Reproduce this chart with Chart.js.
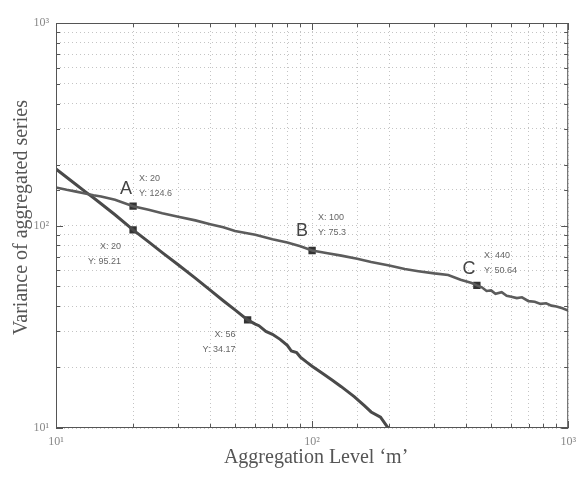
<!DOCTYPE html>
<html>
<head>
<meta charset="utf-8">
<script src="https://cdn.jsdelivr.net/npm/chart.js@4/dist/chart.umd.min.js"></script>
<style>
  html, body { margin: 0; padding: 0; background: #fff; }
  #wrap { width: 583px; height: 491px; }
</style>
</head>
<body>
<div id="wrap"><canvas id="chart" width="583" height="491"></canvas></div>
<script>
// aggregation level m (x) and variance of the aggregated series (y)
const shallowX = [10, 11, 12, 13, 14, 15, 17, 20, 23, 26, 30, 35, 40, 45, 50, 60, 70, 80, 90, 100,
    115, 130, 150, 170, 200, 230, 260, 300, 340, 380, 420, 440, 460, 480, 500, 520, 550, 575, 600, 630,
    660, 700, 740, 780, 820, 860, 900, 950, 1000];
const shallowY = [154, 150, 147, 144, 141, 139, 134, 124.6, 119.5, 115, 110.5, 106, 101.5, 98, 94, 90, 85.5, 82.5, 79, 75.3,
    73, 71, 68.5, 66, 63.5, 61, 59.5, 58, 57, 54, 52, 50.64, 49.5, 47.5, 47.8, 46, 46.8, 45, 44.5, 43.8,
    44.2, 42.3, 42, 41, 41.3, 40.2, 39.8, 39, 38];

const steepX = [10, 11, 12, 13, 14, 15, 17, 20, 23, 26, 30, 35, 40, 45, 50, 56, 60, 62, 66, 70, 75, 80, 83, 87,
    90, 95, 100, 110, 120, 130, 146, 160, 170, 185, 197, 205];
const steepY = [190, 173, 159, 147, 137, 128, 113, 95.21, 83, 73.5, 64, 55, 48, 42.5, 38.3, 34.17, 32.6, 32.0, 30.0, 29.0, 27.4, 25.6, 24.0, 23.6,
    22.4, 21.2, 20.2, 18.6, 17.2, 16.0, 14.3, 12.9, 12.0, 11.3, 10.1, 9.6];

// data tips
const tipX = [20, 20, 100, 440, 56];
const tipY = [124.6, 95.21, 75.3, 50.64, 34.17];
const tipLetter = ["A", "", "B", "C", ""];

// axis ticks
const decadeValues = [10, 100, 1000];
const decadeLabels = ["10\u00b9", "10\u00b2", "10\u00b3"];

const xTitle = "Aggregation Level \u2018m\u2019";
const yTitle = "Variance of aggregated series";

const toPoints = (xs, ys) => xs.map((x, i) => ({ x: x, y: ys[i] }));

const decadeLabel = (v) => {
    const i = decadeValues.findIndex((d) => Math.abs(d - v) < 1e-6);
    return i >= 0 ? decadeLabels[i] : "";
};

// where each tip's text goes, relative to its marker
const tipLayout = [
    { letter: [-7, -17], text: [6, -28], align: "left" },
    { letter: null, text: [-12, 17], align: "right" },
    { letter: [-10, -19], text: [6, -33], align: "left" },
    { letter: [-8, -16], text: [7, -30], align: "left" },
    { letter: null, text: [-12, 15], align: "right" },
];

const decorations = {
    id: "decorations",
    afterDraw(chart) {
        const { ctx, chartArea: a, scales } = chart;
        ctx.save();
        // box
        ctx.strokeStyle = "#555";
        ctx.lineWidth = 1;
        ctx.strokeRect(a.left + 0.5, a.top + 0.5, a.right - a.left - 1, a.bottom - a.top - 1);
        // inward ticks
        ctx.beginPath();
        scales.x.ticks.forEach((t) => {
            const px = Math.round(scales.x.getPixelForValue(t.value)) + 0.5;
            const len = decadeLabel(t.value) ? 7 : 4;
            ctx.moveTo(px, a.bottom); ctx.lineTo(px, a.bottom - len);
            ctx.moveTo(px, a.top); ctx.lineTo(px, a.top + len);
        });
        scales.y.ticks.forEach((t) => {
            const py = Math.round(scales.y.getPixelForValue(t.value)) + 0.5;
            const len = decadeLabel(t.value) ? 7 : 4;
            ctx.moveTo(a.left, py); ctx.lineTo(a.left + len, py);
            ctx.moveTo(a.right, py); ctx.lineTo(a.right - len, py);
        });
        ctx.stroke();

        // data tip texts
        tipX.forEach((xv, i) => {
            const px = scales.x.getPixelForValue(xv);
            const py = scales.y.getPixelForValue(tipY[i]);
            const lay = tipLayout[i];
            if (tipLetter[i] && lay.letter) {
                ctx.fillStyle = "#444";
                ctx.font = "18px 'Liberation Sans', Arial, sans-serif";
                ctx.textAlign = "center";
                ctx.textBaseline = "middle";
                ctx.fillText(tipLetter[i], px + lay.letter[0], py + lay.letter[1]);
            }
            ctx.fillStyle = "#666";
            ctx.font = "9px 'Liberation Sans', Arial, sans-serif";
            ctx.textAlign = lay.align;
            ctx.textBaseline = "middle";
            ctx.fillText("X: " + xv, px + lay.text[0], py + lay.text[1]);
            ctx.fillText("Y: " + tipY[i], px + lay.text[0], py + lay.text[1] + 15);
        });

        // axis titles
        ctx.fillStyle = "#555";
        ctx.font = "20px 'Liberation Serif', 'Times New Roman', serif";
        ctx.textAlign = "center";
        ctx.textBaseline = "middle";
        ctx.fillText(xTitle, (a.left + a.right) / 2 + 4, 458);
        ctx.translate(22, (a.top + a.bottom) / 2 - 8);
        ctx.rotate(-Math.PI / 2);
        ctx.fillText(yTitle, 0, 0);
        ctx.restore();
    },
};

const gridOpts = { color: "#c4c4c4", lineWidth: 1, drawTicks: false };
const tickFont = { family: "'Liberation Serif', 'Times New Roman', serif", size: 12 };

new Chart(document.getElementById("chart").getContext("2d"), {
    type: "scatter",
    data: {
        datasets: [
            {
                data: toPoints(shallowX, shallowY),
                showLine: true,
                borderColor: "#5c5c5c",
                borderWidth: 2.6,
                pointRadius: 0,
                tension: 0,
            },
            {
                data: toPoints(steepX, steepY),
                showLine: true,
                borderColor: "#4a4a4a",
                borderWidth: 3,
                pointRadius: 0,
                tension: 0,
            },
            {
                data: toPoints(tipX, tipY),
                showLine: false,
                pointStyle: "rect",
                pointRadius: 5.2,
                backgroundColor: "#333",
                borderColor: "#333",
                borderWidth: 0,
            },
        ],
    },
    options: {
        responsive: false,
        animation: false,
        layout: { padding: { top: 23, right: 11, left: 0, bottom: 0 } },
        plugins: { legend: { display: false }, tooltip: { enabled: false } },
        scales: {
            x: {
                type: "logarithmic",
                min: 10,
                max: 1000,
                grid: gridOpts,
                border: { display: false, dash: [1, 3] },
                ticks: {
                    autoSkip: false,
                    maxRotation: 0,
                    padding: 7,
                    color: "#888",
                    font: tickFont,
                    callback: (v) => decadeLabel(v),
                },
                afterFit: (s) => { s.height = 63; },
            },
            y: {
                type: "logarithmic",
                min: 10,
                max: 1000,
                grid: gridOpts,
                border: { display: false, dash: [1, 3] },
                ticks: {
                    autoSkip: false,
                    padding: 7,
                    color: "#888",
                    font: tickFont,
                    callback: (v) => decadeLabel(v),
                },
                afterFit: (s) => { s.width = 56; },
            },
        },
    },
    plugins: [decorations],
});
</script>
</body>
</html>
